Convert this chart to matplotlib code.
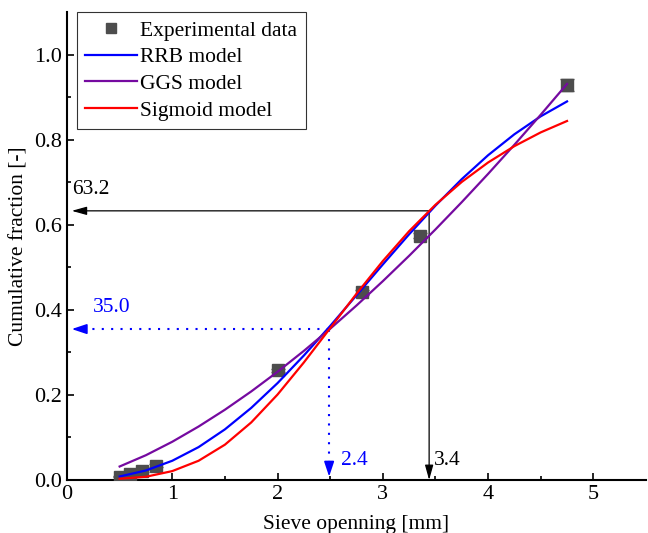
import numpy as np
import matplotlib
matplotlib.use('Agg')
import matplotlib.pyplot as plt
from matplotlib.lines import Line2D

plt.rcParams['font.family'] = ['Liberation Serif', 'DejaVu Serif']

# experimental data
d_exp = [0.5, 0.6, 0.71, 0.85, 2.0, 2.8, 3.35, 4.75]
f_exp = [0.008, 0.015, 0.021, 0.034, 0.258, 0.441, 0.574, 0.929]
f_err = [0.002, 0.002, 0.003, 0.003, 0.004, 0.005, 0.006, 0.015]

# model curves
d_mod = [0.5, 0.75, 1.0, 1.25, 1.5, 1.75, 2.0, 2.25, 2.5, 2.75,
         3.0, 3.25, 3.5, 3.75, 4.0, 4.25, 4.5, 4.75]
f_rrb = [0.0083, 0.0225, 0.0453, 0.0774, 0.1191, 0.1696, 0.2279, 0.2928, 0.3623, 0.4344,
         0.5069, 0.5779, 0.6452, 0.7076, 0.7638, 0.8131, 0.8553, 0.8903]
f_ggs = [0.0318, 0.0584, 0.0900, 0.1258, 0.1653, 0.2083, 0.2545, 0.3037, 0.3557, 0.4104,
         0.4676, 0.5273, 0.5893, 0.6535, 0.7199, 0.7884, 0.8590, 0.9315]
f_sig = [0.0030, 0.0077, 0.0210, 0.0453, 0.0831, 0.1354, 0.2010, 0.2765, 0.3572, 0.4380,
         0.5149, 0.5852, 0.6473, 0.7010, 0.7467, 0.7852, 0.8175, 0.8443]

# characteristic sizes
d632, f632 = 3.44, 0.633
d350, f350 = 2.49, 0.355

gray = '#4d4d4d'
blue = '#0000ff'
purple = '#750aa0'
red = '#ff0000'

fig = plt.figure(figsize=(6.48, 5.33), dpi=100)
ax = fig.add_axes([0.1034, 0.0994, 0.8935, 0.8776])

ax.errorbar(d_exp, f_exp, yerr=f_err, fmt='s', color=gray, ms=8, mec=gray,
            ecolor=gray, elinewidth=1, capsize=5, capthick=1, zorder=3)
ax.plot(d_mod, f_rrb, color=blue, lw=1.6, zorder=4)
ax.plot(d_mod, f_ggs, color=purple, lw=1.6, zorder=4)
ax.plot(d_mod, f_sig, color=red, lw=1.6, zorder=4)

# black arrows (63.2 %)
aprops = dict(arrowstyle='-|>,head_length=0.9,head_width=0.25', lw=0.9, color='black',
              shrinkA=0, shrinkB=0, mutation_scale=10)
ax.annotate('', xy=(0.045, f632), xytext=(d632, f632), arrowprops=aprops)
ax.annotate('', xy=(d632, 0.0), xytext=(d632, f632), arrowprops=aprops)
ax.text(0.05, 0.662, '63.2', fontsize=15.5, color='black', ha='left', va='bottom')
ax.text(3.485, 0.045, '3.4', fontsize=15.5, color='black', ha='left', va='center')

# blue dotted arrows (35.0 %)
bprops = dict(arrowstyle='-|>,head_length=0.9,head_width=0.3', lw=1.2, color=blue,
              shrinkA=0, shrinkB=0, mutation_scale=10)
ax.plot([0.15, d350], [f350, f350], color=blue, lw=1.5, ls=(0, (1, 3.5)))
ax.plot([d350, d350], [0.04, f350], color=blue, lw=1.5, ls=(0, (1, 3.5)))
ax.annotate('', xy=(0.045, f350), xytext=(0.16, f350), arrowprops=bprops)
ax.annotate('', xy=(d350, 0.008), xytext=(d350, 0.04), arrowprops=bprops)
ax.text(0.245, 0.384, '35.0', fontsize=15.5, color=blue, ha='left', va='bottom')
ax.text(2.6, 0.045, '2.4', fontsize=15.5, color=blue, ha='left', va='center')

ax.set_xlim(0, 5.5)
ax.set_ylim(0, 1.1)
ax.set_xticks([0, 1, 2, 3, 4, 5])
ax.set_xticks(np.arange(0.5, 5.5, 1.0), minor=True)
ax.set_yticks([0.0, 0.2, 0.4, 0.6, 0.8, 1.0])
ax.set_yticks(np.arange(0.1, 1.1, 0.2), minor=True)
ax.set_yticklabels(['0.0', '0.2', '0.4', '0.6', '0.8', '1.0'])
ax.tick_params(which='both', direction='in', labelsize=16, width=1.2)
ax.tick_params(which='major', length=5)
ax.tick_params(which='minor', length=3)
for s in ['top', 'right']:
    ax.spines[s].set_visible(False)
for s in ['left', 'bottom']:
    ax.spines[s].set_linewidth(1.5)

ax.set_xlabel('Sieve openning [mm]', fontsize=15.5, labelpad=8)
ax.set_ylabel('Cumulative fraction [-]', fontsize=15.5, labelpad=4)

handles = [Line2D([], [], ls='none', marker='s', color=gray, ms=7),
           Line2D([], [], color=blue, lw=1.6),
           Line2D([], [], color=purple, lw=1.6),
           Line2D([], [], color=red, lw=1.6)]
labels = ['Experimental data', 'RRB model', 'GGS model', 'Sigmoid model']
leg = ax.legend(handles, labels, loc='upper left', bbox_to_anchor=(0.017, 1.0),
                borderaxespad=0, fontsize=15.5, frameon=True, fancybox=False,
                edgecolor='black', handlelength=2.4, handletextpad=0.15,
                labelspacing=0.3, borderpad=0.4)
leg.get_frame().set_linewidth(0.8)

fig.savefig('out.png', dpi=100)
